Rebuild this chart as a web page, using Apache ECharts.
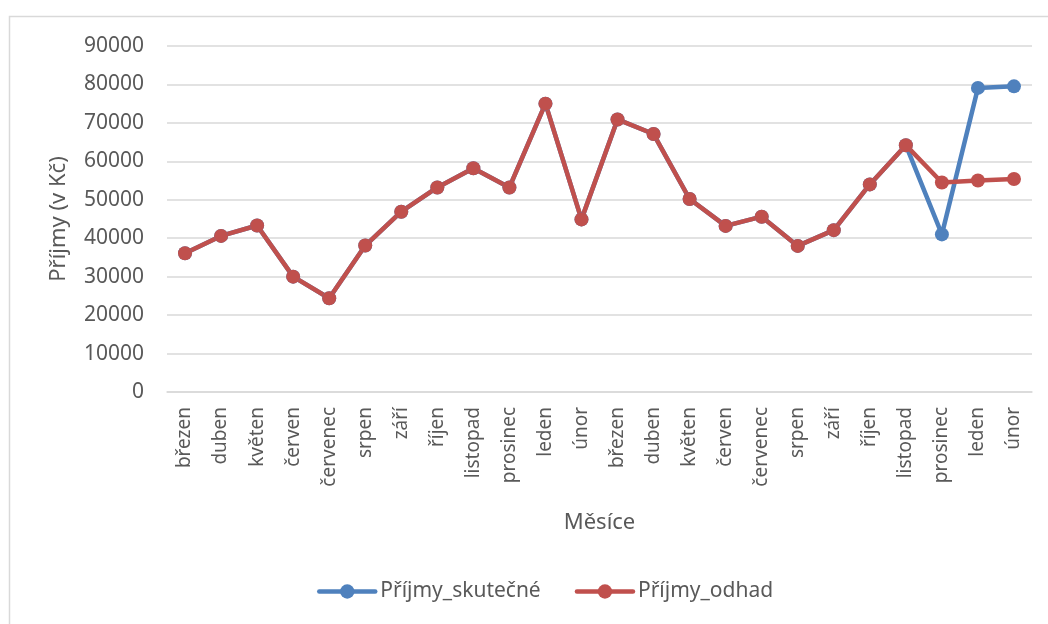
<!DOCTYPE html>
<html>
<head>
<meta charset="utf-8">
<script src="https://cdn.jsdelivr.net/npm/echarts@6/dist/echarts.min.js"></script>
<style>
  html, body { margin: 0; padding: 0; background: #fff; }
  #chart { width: 1048px; height: 624px; }
</style>
</head>
<body>
<div id="chart"></div>
<script>
var mesice = ['březen', 'duben', 'květen', 'červen', 'červenec', 'srpen', 'září', 'říjen', 'listopad', 'prosinec', 'leden', 'únor',
              'březen', 'duben', 'květen', 'červen', 'červenec', 'srpen', 'září', 'říjen', 'listopad', 'prosinec', 'leden', 'únor'];

var prijmySkutecne = [36100, 40600, 43300, 30000, 24400, 38100, 46900, 53200, 58200, 53200, 75000, 44900,
                      70900, 67100, 50200, 43200, 45600, 38000, 42100, 54000, 64200, 41000, 79100, 79500];

var prijmyOdhad = [36100, 40600, 43300, 30000, 24400, 38100, 46900, 53200, 58200, 53200, 75000, 44900,
                   70900, 67100, 50200, 43200, 45600, 38000, 42100, 54000, 64200, 54500, 55000, 55400];

var textColor = '#595959';
var fontName = 'Noto Sans';

var myChart = echarts.init(document.getElementById('chart'));

var option = {
    animation: false,
    backgroundColor: '#fff',
    graphic: [{
        type: 'rect',
        shape: { x: 9.5, y: 16.5, width: 1100, height: 700 },
        style: { fill: 'none', stroke: '#d9d9d9', lineWidth: 1.5 },
        silent: true
    }],
    grid: {
        left: 167,
        right: 16,
        top: 46,
        bottom: 232
    },
    legend: {
        bottom: 17,
        left: 312,
        itemWidth: 56,
        itemHeight: 18,
        itemGap: 34,
        lineStyle: { width: 4.5, cap: 'round' },
        textStyle: { color: textColor, fontSize: 21, fontFamily: fontName },
        data: ['Příjmy_skutečné', 'Příjmy_odhad']
    },
    xAxis: {
        type: 'category',
        data: mesice,
        boundaryGap: true,
        name: 'Měsíce',
        nameLocation: 'middle',
        nameGap: 120,
        nameTextStyle: { color: textColor, fontSize: 22, fontFamily: fontName },
        axisLine: { lineStyle: { color: '#d9d9d9', width: 1.5 } },
        axisTick: { show: false },
        axisLabel: {
            rotate: 90,
            interval: 0,
            margin: 15,
            color: textColor,
            fontSize: 19,
            fontFamily: fontName
        }
    },
    yAxis: {
        type: 'value',
        min: 0,
        max: 90000,
        interval: 10000,
        name: 'Příjmy (v Kč)',
        nameLocation: 'middle',
        nameGap: 97,
        nameMoveOverlap: false,
        nameTextStyle: { color: textColor, fontSize: 22, fontFamily: fontName },
        axisLine: { show: false },
        axisTick: { show: false },
        splitLine: { lineStyle: { color: '#d9d9d9', width: 1.5 } },
        axisLabel: {
            margin: 23,
            color: textColor,
            fontSize: 21,
            fontFamily: fontName,
            formatter: function (v) { return String(v); }
        }
    },
    series: [
        {
            name: 'Příjmy_skutečné',
            type: 'line',
            data: prijmySkutecne,
            symbol: 'circle',
            symbolSize: 14,
            color: '#4f81bd',
            lineStyle: { width: 4.5, color: '#4f81bd' },
            itemStyle: { color: '#4f81bd' }
        },
        {
            name: 'Příjmy_odhad',
            type: 'line',
            data: prijmyOdhad,
            symbol: 'circle',
            symbolSize: 14,
            color: '#c0504d',
            lineStyle: { width: 4.5, color: '#c0504d' },
            itemStyle: { color: '#c0504d' }
        }
    ]
};

myChart.setOption(option);
</script>
</body>
</html>
